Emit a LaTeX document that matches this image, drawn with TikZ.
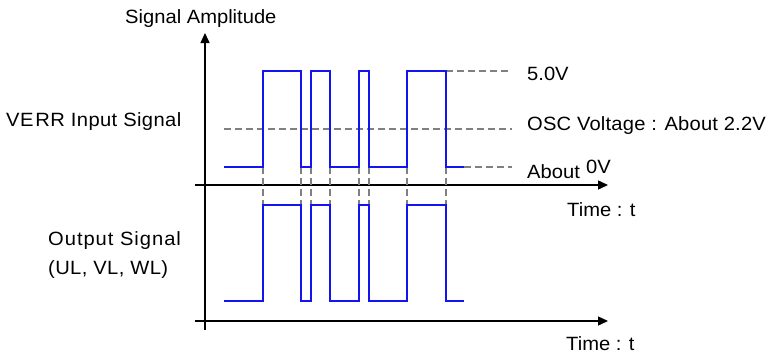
\documentclass[tikz,border=0pt]{standalone}
\usepackage{fontspec}
\setmainfont{Liberation Sans}[FakeStretch=1.05]
\usetikzlibrary{arrows.meta}
\definecolor{sigblue}{RGB}{20,20,240}
\definecolor{dashgray}{RGB}{128,128,128}
\tikzset{
  axisline/.style={line width=1.4pt,black,-{Triangle[length=10pt,width=9pt]}},
  sigline/.style={line width=1.8pt,sigblue},
  guide/.style={line width=1.4pt,dashgray,dash pattern=on 7pt off 4pt},
  lbl/.style={anchor=base west,inner sep=0pt,font=\fontsize{19.2}{22}\selectfont}
}
\begin{document}
\begin{tikzpicture}[x=1pt,y=-1pt]
\useasboundingbox (0,0) rectangle (768,356);
% axes
\coordinate (vb) at (205,330);
\coordinate (vt) at (205,33);
\coordinate (h1l) at (195,185);
\coordinate (h1r) at (608,185);
\coordinate (h2l) at (195,321);
\coordinate (h2r) at (608,321);
\draw[axisline] (vb) -- (vt);
\draw[axisline] (h1l) -- (h1r);
\draw[axisline] (h2l) -- (h2r);
% guide lines
\draw[guide] (224,129) -- (512,129);
\draw[guide] (446,71) -- (508,71);
\draw[guide] (464,167) -- (512,167);
\foreach \x in {263,301,311,330,359,369,407,446}
  \draw[guide] (\x,167) -- (\x,205);
% upper signal
\draw[sigline] (224,167) -- (263,167) -- (263,71) -- (301,71) -- (301,167) -- (311,167)
  -- (311,71) -- (330,71) -- (330,167) -- (359,167) -- (359,71) -- (369,71) -- (369,167)
  -- (407,167) -- (407,71) -- (446,71) -- (446,167) -- (464,167);
% lower signal
\draw[sigline] (224,301) -- (263,301) -- (263,205) -- (301,205) -- (301,301) -- (311,301)
  -- (311,205) -- (330,205) -- (330,301) -- (359,301) -- (359,205) -- (369,205) -- (369,301)
  -- (407,301) -- (407,205) -- (446,205) -- (446,301) -- (464,301);
% labels
\node[lbl] (amp) at (125,23.5) {Signal Amplitude};
\node[lbl] (verr) at (6,126.5) {\addfontfeature{LetterSpace=2}VE\kern2pt RR Input Signal};
\node[lbl] (five) at (527,80) {5.0V};
\node[lbl] (osc) at (527,130) {\addfontfeature{LetterSpace=1}OSC Voltage : About 2.2V};
\node[lbl] (about) at (527,178.5) {About};
\node[lbl] (zero) at (586,173) {0V};
\node[lbl] (t1) at (567,216) {Time : t};
\node[lbl] (t2) at (566,350.5) {Time : t};
\node[lbl] (out1) at (48,245.5) {\addfontfeature{LetterSpace=5}Output Signal};
\node[lbl] (out2) at (48,274) {\addfontfeature{LetterSpace=2}(UL, VL, WL)};
\end{tikzpicture}
\end{document}
